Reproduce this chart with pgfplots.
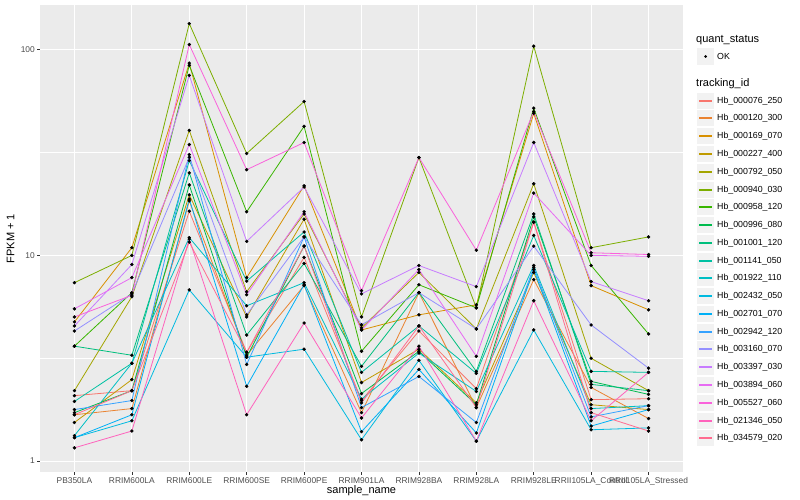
\documentclass[border=0pt]{standalone}
\usepackage{fontspec}
\setmainfont{Liberation Sans}
\usepackage{pgfplots}
\pgfplotsset{compat=1.18}
\usepackage{pgfplotstable}

\definecolor{c1}{HTML}{F8766D}
\definecolor{c2}{HTML}{EA8331}
\definecolor{c3}{HTML}{D89000}
\definecolor{c4}{HTML}{C09B00}
\definecolor{c5}{HTML}{A3A500}
\definecolor{c6}{HTML}{7CAE00}
\definecolor{c7}{HTML}{39B600}
\definecolor{c8}{HTML}{00BB4E}
\definecolor{c9}{HTML}{00BF7D}
\definecolor{c10}{HTML}{00C1A3}
\definecolor{c11}{HTML}{00BFC4}
\definecolor{c12}{HTML}{00BAE0}
\definecolor{c13}{HTML}{00B0F6}
\definecolor{c14}{HTML}{35A2FF}
\definecolor{c15}{HTML}{9590FF}
\definecolor{c16}{HTML}{C77CFF}
\definecolor{c17}{HTML}{E76BF3}
\definecolor{c18}{HTML}{FA62DB}
\definecolor{c19}{HTML}{FF62BC}
\definecolor{c20}{HTML}{FF6C90}
\definecolor{panelbg}{HTML}{EBEBEB}
\definecolor{keybg}{HTML}{F2F2F2}
\definecolor{gray30}{HTML}{4D4D4D}
\definecolor{gray20}{HTML}{333333}

% FPKM + 1, one row per sample, one column per tracking_id
\pgfplotstableread{
x  s1    s2    s3    s4    s5    s6    s7    s8    s9    s10   s11   s12   s13   s14   s15   s16   s17   s18   s19   s20
0  2.08  1.68  4.75  1.54  2.20  7.37  3.62  1.72  3.62  1.95  1.33  1.30  1.30  1.78  4.29  4.54  5.5   5.02  1.16  1.68
1  2.2   1.8   10.9  2.49  6.3   10.0  6.59  2.2   3.27  2.99  2.99  1.57  1.68  1.97  6.5   9.03  7.8   6.4   1.40  2.2
2  16.4  18.4  86    19.7  40.5  134   84    22.0  25.2  28.9  12.2  6.8   18.8  30.9  30.0  75    34.6  106   12.0  11.6
3  3.38  3.27  7.8   5.02  6.66  31.3  16.3  3.2   4.1   7.5   5.69  3.2   2.31  2.95  5.14  11.7  6.44  26.1  1.68  3.38
4  9.78  7.13  21.8  15.0  15.9  56    42.4  11.1  9.14  13.0  7.37  3.5   7.2   12.3  12.3  21.5  16.3  35.4  4.69  11.1
5  1.97  1.72  4.34  2.41  4.44  5.02  3.42  2.13  2.89  2.70  2.0   1.27  1.39  1.82  4.6   6.5   4.34  6.74  1.62  1.92
6  4.29  6.59  5.14  3.5   8.26  29.9  7.2   3.42  6.6   4.54  3.35  3.09  2.79  2.58  6.59  8.93  8.54  29.9  3.62  4.54
7  2.25  1.82  5.75  1.92  4.39  5.56  5.56  1.88  2.73  2.67  2.18  1.25  1.37  1.54  4.39  7.05  3.23  10.6  1.25  1.82
8  14.5  7.63  49    8.26  22.3  104   52    15.4  15.9  12.5  8.93  4.34  8.54  8.74  11.1  35.4  20.1  50    6.02  14.5
9  1.99  2.28  7.13  1.88  3.16  10.9  8.93  2.44  2.36  2.73  1.80  1.42  1.48  1.64  4.59  7.46  10.0  10.3  1.57  1.72
10 2.01  1.61  5.44  1.78  2.2   12.3  4.15  2.11  2.20  2.70  1.86  1.45  1.78  1.86  2.83  6.02  9.9   10.1  2.70  1.40
}\fpkm

\begin{document}
\begin{tikzpicture}
\begin{axis}[
    at={(40pt,28pt)}, anchor=south west,
    scale only axis, width=643pt, height=467pt,
    ymode=log,
    xmin=-0.6, xmax=10.6,
    ymin=0.885, ymax=165,
    xtick={0,...,10},
    xticklabels={PB350LA,RRIM600LA,RRIM600LE,RRIM600SE,RRIM600PE,RRIM901LA,RRIM928BA,RRIM928LA,RRIM928LE,RRII105LA\_Control,RRII105LA\_Stressed},
    ytick={1,10,100}, yticklabels={1,10,100},
    minor xtick={}, minor ytick={0.3162,3.162,31.62},
    grid=both,
    major grid style={white, line width=1pt},
    minor grid style={white, line width=0.5pt},
    axis background/.style={fill=panelbg},
    axis line style={draw=none},
    tick align=outside, xtick pos=bottom, ytick pos=left,
    major tick length=3pt, minor tick length=0pt,
    major tick style={gray20, line width=0.5pt},
    ticklabel style={font=\fontsize{8.4}{9}\selectfont, text=gray30},
    xticklabel style={inner sep=1pt, yshift=-1pt},
    yticklabel style={inner sep=1pt, xshift=-1pt},
    xlabel={sample\_name}, ylabel={FPKM + 1},
    label style={font=\fontsize{11}{13}\selectfont},
    xlabel style={yshift=4pt},
    ylabel style={yshift=2pt},
]
\pgfplotsinvokeforeach{1,...,20}{
  \addplot[color=c#1, line width=0.8pt, mark=none] table[x=x, y=s#1]{\fpkm};
}
\pgfplotsinvokeforeach{1,...,20}{
  \addplot[only marks, mark=*, mark size=1.5pt, black] table[x=x, y=s#1]{\fpkm};
}
\end{axis}

% legend
\node[anchor=west, inner sep=0pt, font=\fontsize{11}{13}\selectfont] at (696pt,460pt) {quant\_status};
\fill[keybg] (697pt,435pt) rectangle (714pt,452pt);
\fill[black] (705.5pt,443.5pt) circle (1.5pt);
\node[anchor=west, inner sep=0pt, font=\fontsize{8.8}{10}\selectfont] at (717pt,443.5pt) {OK};
\node[anchor=west, inner sep=0pt, font=\fontsize{11}{13}\selectfont] at (696pt,416pt) {tracking\_id};
\foreach \n [count=\i] in {000076\_250,000120\_300,000169\_070,000227\_400,000792\_050,000940\_030,000958\_120,000996\_080,001001\_120,001141\_050,001922\_110,002432\_050,002701\_070,002942\_120,003160\_070,003397\_030,003894\_060,005527\_060,021346\_050,034579\_020}{
  \pgfmathsetmacro{\yc}{round(500-100.7-(\i-1)*17.77)}
  \fill[keybg] (697pt,\yc pt-8.5pt) rectangle (714pt,\yc pt+8pt);
  \draw[c\i, line width=1.8pt] (699pt,\yc pt) -- (712pt,\yc pt);
  \node[anchor=west, inner sep=0pt, font=\fontsize{8.8}{10}\selectfont] at (717pt,\yc pt) {Hb\_\n};
}
\pgfresetboundingbox
\path (0,0) rectangle (800pt,500pt);
\end{tikzpicture}
\end{document}
